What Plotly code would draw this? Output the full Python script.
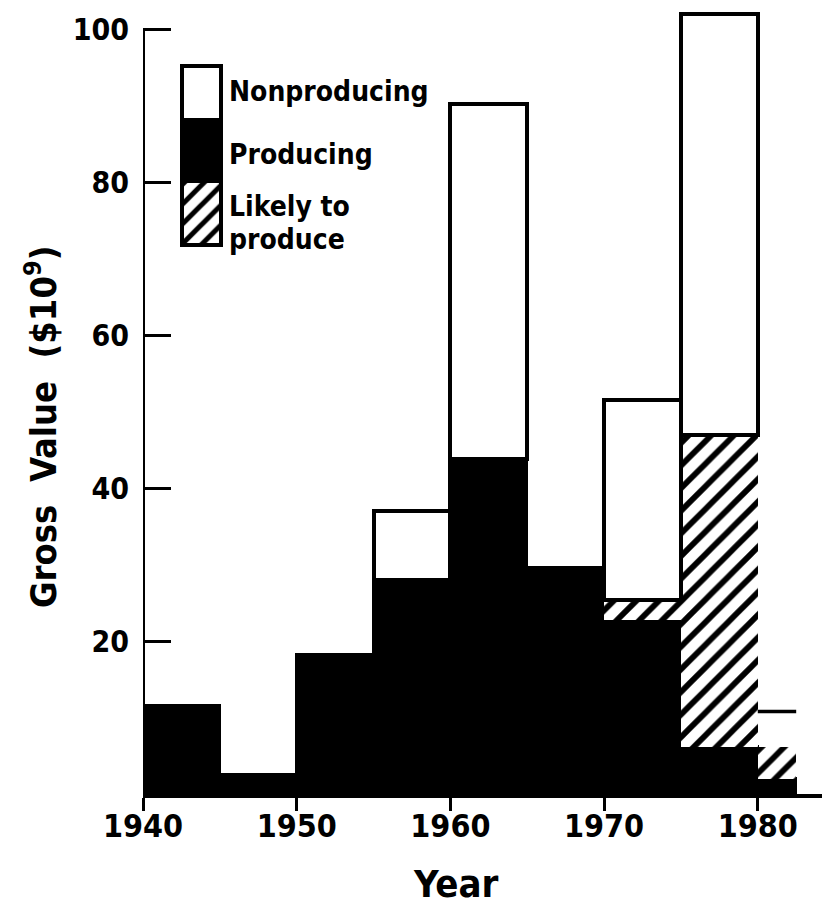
import plotly.graph_objects as go

# ---- data ----
bin_start = [1940, 1945, 1950, 1955, 1960, 1965, 1970, 1975, 1980]
bin_width = [5, 5, 5, 5, 5, 5, 5, 5, 2.5]
producing = [11.5, 2.5, 18.2, 28.0, 43.8, 29.6, 22.8, 6.1, 2.0]
likely = [0, 0, 0, 0, 0, 0, 2.5, 40.8, 4.1]
nonproducing = [0, 0, 0, 9.0, 46.4, 0, 26.2, 55.1, 4.7]
x_ticks = [1940, 1950, 1960, 1970, 1980]
y_ticks = [20, 40, 60, 80, 100]
legend_labels = ["Nonproducing", "Producing", "Likely to", "produce"]

FONT = "DejaVu Sans Condensed"
centers = [s + w / 2 for s, w in zip(bin_start, bin_width)]
base_likely = producing
base_non = [p + l for p, l in zip(producing, likely)]
tops = [b + n for b, n in zip(base_non, nonproducing)]

HATCH = dict(shape="/", fgcolor="black", bgcolor="white", fgopacity=1,
             size=16, solidity=0.36)

fig = go.Figure()
# producing (black)
fig.add_trace(go.Bar(x=centers, y=producing, width=bin_width, base=[0] * len(producing),
                     marker=dict(color="black", line=dict(color="black", width=3)),
                     showlegend=False))
# likely to produce (hatched)
fig.add_trace(go.Bar(x=centers, y=likely, width=bin_width, base=base_likely,
                     marker=dict(color="white", pattern=HATCH,
                                 line=dict(color="black", width=0)),
                     showlegend=False))
# nonproducing (white, outlined); the last partial bin shows only its top edge
n_full = len(nonproducing) - 1
line_w = [4] * n_full + [0]
line_c = ["black"] * n_full + ["rgba(0,0,0,0)"]
fig.add_trace(go.Bar(x=centers, y=nonproducing, width=bin_width, base=base_non,
                     marker=dict(color="rgba(255,255,255,0)",
                                 line=dict(color=line_c, width=line_w)),
                     showlegend=False))
fig.add_trace(go.Scatter(x=[bin_start[-1], bin_start[-1] + bin_width[-1]],
                         y=[tops[-1], tops[-1]], mode="lines",
                         line=dict(color="black", width=3.5), showlegend=False))

# legend patches on a small auxiliary axis pair
fig.add_trace(go.Bar(x=[0.5], y=[1], base=[0], width=[1], xaxis="x2", yaxis="y2",
                     marker=dict(color="white", pattern=dict(HATCH, size=14),
                                 line=dict(width=0)), showlegend=False))
fig.add_trace(go.Bar(x=[0.5], y=[1.05], base=[1], width=[1], xaxis="x2", yaxis="y2",
                     marker=dict(color="black", line=dict(width=0)), showlegend=False))
fig.add_trace(go.Bar(x=[0.5], y=[0.85], base=[2.05], width=[1], xaxis="x2", yaxis="y2",
                     marker=dict(color="white", line=dict(width=0)), showlegend=False))

OFF = 8  # page body margin
W, H = 830 - OFF, 908 - OFF
PLOT_L, PLOT_B, PLOT_T = 143, 794, 8  # page pixels
L, B, T, R = PLOT_L - OFF, H - (PLOT_B - OFF), PLOT_T - OFF, 0
pw, ph = W - L - R, H - T - B
y_top = (PLOT_B - PLOT_T) / 7.65


def px(p):
    return (p - PLOT_L) / pw


def py(q):
    return (PLOT_B - q) / ph


fig.update_layout(
    width=W, height=H, margin=dict(l=L, r=R, t=T, b=B, autoexpand=False),
    paper_bgcolor="white", plot_bgcolor="white",
    barmode="overlay", bargap=0,
    xaxis=dict(range=[1940, 1984.7], tickvals=x_ticks, ticks="outside", ticklen=13,
               tickwidth=3, tickcolor="black", showline=True, linewidth=4, linecolor="black",
               showgrid=False, zeroline=False, ticklabelstandoff=-12,
               tickfont=dict(family=FONT, size=32, color="black", weight="bold")),
    yaxis=dict(range=[0, y_top], tickvals=y_ticks, ticks="inside", ticklen=28,
               tickwidth=2.5, tickcolor="black", showline=False, showgrid=False,
               zeroline=False, ticklabelstandoff=13,
               tickfont=dict(family=FONT, size=30, color="black", weight="bold")),
    xaxis2=dict(domain=[px(182), px(221)], range=[0, 1], anchor="y2", visible=False,
                fixedrange=True),
    yaxis2=dict(domain=[py(245), py(66)], range=[0, 2.9], anchor="x2", visible=False,
                fixedrange=True),
)

# y axis line (0..100) and legend box outline
fig.add_shape(type="line", xref="x", yref="y", x0=1940, x1=1940, y0=0, y1=100,
              line=dict(color="black", width=4), layer="above")
fig.add_shape(type="rect", xref="paper", yref="paper", x0=px(182), x1=px(221),
              y0=py(245), y1=py(66), line=dict(color="black", width=4), layer="above")

txt = dict(family=FONT, size=28, color="black", weight="bold")
for label, yc in zip(legend_labels, [92, 154, 207, 240]):
    fig.add_annotation(text=label, xref="paper", yref="paper", x=px(227), y=py(yc),
                       xanchor="left", yanchor="middle", showarrow=False, font=txt)

fig.add_annotation(text="Year", xref="paper", yref="paper", x=px(456), y=py(884),
                   xanchor="center", yanchor="middle", showarrow=False,
                   font=dict(family=FONT, size=38, color="black", weight="bold"))
fig.add_annotation(text="Gross  Value  ($10<sup>9</sup>)", xref="paper", yref="paper",
                   x=px(41), y=py(427), textangle=-90, xanchor="center", yanchor="middle",
                   showarrow=False,
                   font=dict(family=FONT, size=36, color="black", weight="bold"))

fig.write_html("out.html")
